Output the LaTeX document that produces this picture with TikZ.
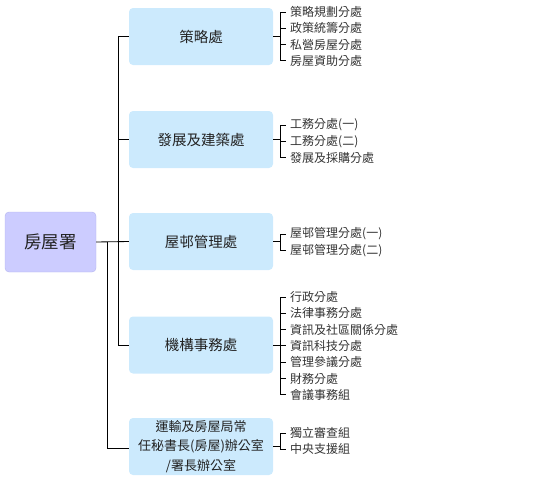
\documentclass[tikz,border=0pt]{standalone}
\usepackage{fontspec}
\setmainfont{Noto Sans CJK TC}
\newfontfamily\cjk{Noto Sans CJK TC}
\definecolor{rootfill}{HTML}{CCCCFF}
\definecolor{rootdraw}{HTML}{B4B4EE}
\definecolor{boxfill}{HTML}{CCEAFD}
\definecolor{txt}{HTML}{222222}
\definecolor{itxt}{HTML}{333333}
\begin{document}
\begin{tikzpicture}[x=1pt,y=-1pt,
  rootbox/.style={draw=rootdraw,fill=rootfill,rounded corners=4pt,minimum width=91pt,minimum height=60pt,inner sep=0pt,font=\cjk\fontsize{17.5}{20}\selectfont,text=txt},
  divbox/.style={fill=boxfill,rounded corners=4pt,minimum width=144pt,minimum height=57pt,inner sep=0pt,font=\cjk\fontsize{14.5}{19.5}\selectfont,text=txt,align=center},
  item/.style={anchor=west,inner sep=0pt,font=\cjk\fontsize{12}{13}\selectfont,text=itxt},
  ln/.style={draw=black,line width=0.85pt}]
\useasboundingbox (0,0) rectangle (535,482);
% root
\node[rootbox] (root) at (50.5,242) {房屋署};
% divisions
\node[divbox] (b1) at (201,36.5) {策略處};
\node[divbox] (b2) at (201,139.5) {發展及建築處};
\node[divbox] (b3) at (201,241.5) {屋邨管理處};
\node[divbox] (b4) at (201,345) {機構事務處};
\node[divbox,font=\cjk\fontsize{13}{19.5}\selectfont] (b5) at (201,446.5) {運輸及房屋局常\\任秘書長(房屋)辦公室\\/署長辦公室};
% trunk
\coordinate (t1) at (118,36.5);
\coordinate (t4) at (118,345);
\coordinate (s0) at (107,242);
\coordinate (s5) at (107,448);
\draw[ln] (root.east) -- (b3.west);
\draw[ln] (t1) -- (t4);
\draw[ln] (t1) -- (b1.west);
\draw[ln] (b2.west -| t1) -- (b2.west);
\draw[ln] (t4) -- (b4.west);
\draw[ln] (s0) -- (s5) -- (s5 -| b5.west);
% items
\foreach \n/\y/\t in {i11/12/策略規劃分處,i12/28.3/政策統籌分處,i13/44.6/私營房屋分處,i14/60.9/房屋資助分處,
  i21/125/工務分處(一),i22/141.3/工務分處(二),i23/157.6/發展及採購分處,
  i31/234/屋邨管理分處(一),i32/250.3/屋邨管理分處(二),
  i41/297/行政分處,i42/313.3/法律事務分處,i43/329.6/資訊及社區關係分處,i44/345.9/資訊科技分處,i45/362.2/管理參議分處,i46/378.5/財務分處,i47/394.8/會議事務組,
  i51/433/獨立審查組,i52/449.3/中央支援組}
  {\node[item] (\n) at (290,\y) {\t};}
% brackets
\foreach \b/\f/\l/\list in {b1/i11/i14/{i11,i12,i13,i14},b2/i21/i23/{i21,i22,i23},b3/i31/i32/{i31,i32},b4/i41/i47/{i41,i42,i43,i44,i45,i46,i47},b5/i51/i52/{i51,i52}}{
  \draw[ln] (\b.east) -- ([xshift=-10pt]\f.west |- \b.east);
  \draw[ln] ([xshift=-10pt]\f.west) -- ([xshift=-10pt]\l.west);
  \foreach \i in \list {\draw[ln] ([xshift=-10pt]\i.west) -- ([xshift=-4pt]\i.west);}
}
\end{tikzpicture}
\end{document}
